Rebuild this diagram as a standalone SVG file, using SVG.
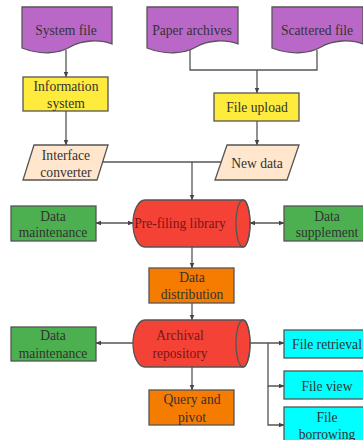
<svg xmlns="http://www.w3.org/2000/svg" width="363" height="440" viewBox="0 0 363 440">
<style>
.s{stroke:#555;stroke-width:1.3}
.doc{fill:#BA68C8}
.yel{fill:#FFEB3B}
.pea{fill:#FFE6CC}
.grn{fill:#4CAF50}
.red{fill:#F44336}
.org{fill:#F57C00}
.cyn{fill:#00FFFF}
text{font-family:"Liberation Serif","Times New Roman",serif;font-size:13.6px;fill:#333;text-anchor:middle}
.rt{fill:#7a1515}
.c{fill:none;stroke:#555;stroke-width:1.3}
</style>
<defs>
<marker id="a" viewBox="0 0 10 10" refX="9" refY="5" markerWidth="6" markerHeight="6" orient="auto-start-reverse" markerUnits="userSpaceOnUse">
<path d="M0,1 L10,5 L0,9 z" fill="#444"/>
</marker>
</defs>
<g id="connectors">
<path class="c" d="M66,50 V77" marker-end="url(#a)"/>
<path class="c" d="M66,111 V145" marker-end="url(#a)"/>
<path class="c" d="M190,50 V70 H317 V50"/>
<path class="c" d="M257,70 V93" marker-end="url(#a)"/>
<path class="c" d="M257,121 V145" marker-end="url(#a)"/>
<path class="c" d="M103,162 H221"/>
<path class="c" d="M192,162 V200" marker-end="url(#a)"/>
<path class="c" d="M96,223 H133" marker-start="url(#a)" marker-end="url(#a)"/>
<path class="c" d="M250,223 H284" marker-start="url(#a)" marker-end="url(#a)"/>
<path class="c" d="M192,247 V268" marker-end="url(#a)"/>
<path class="c" d="M192,303 V320" marker-end="url(#a)"/>
<path class="c" d="M133,343 H96" marker-end="url(#a)"/>
<path class="c" d="M250,343 H284" marker-end="url(#a)"/>
<path class="c" d="M268,343 V386 H284" marker-end="url(#a)"/>
<path class="c" d="M268,386 V425 H284" marker-end="url(#a)"/>
<path class="c" d="M192,367 V390" marker-end="url(#a)"/>
</g>
<g id="system-file">
<path class="doc s" d="M22,7 H112 V44 C100,39 82,40 70,47 C58,54 40,55 22,48 Z"/>
<text x="66" y="35">System file</text>
</g>
<g id="paper-archives">
<path class="doc s" d="M147,7 H238 V44 C226,39 208,40 196,47 C184,54 165,55 147,48 Z"/>
<text x="192" y="35">Paper archives</text>
</g>
<g id="scattered-file">
<path class="doc s" d="M272,7 H363 V44 C351,39 333,40 321,47 C309,54 290,55 272,48 Z"/>
<text x="317" y="35">Scattered file</text>
</g>
<g id="information-system">
<rect class="yel s" x="23" y="77" width="85" height="34"/>
<text x="66" y="91">Information</text>
<text x="66" y="108">system</text>
</g>
<g id="file-upload">
<rect class="yel s" x="214" y="93" width="85" height="28"/>
<text x="257" y="112">File upload</text>
</g>
<g id="interface-converter">
<path class="pea s" d="M34,145 H108 L97,180 H23 Z"/>
<text x="66" y="160">Interface</text>
<text x="66" y="177">converter</text>
</g>
<g id="new-data">
<path class="pea s" d="M227,145 H299 L287,180 H215 Z"/>
<text x="257" y="168">New data</text>
</g>
<g id="pre-filing-library">
<path class="red s" d="M145,200 H243 A7,23.5 0 0 1 243,247 H145 A12,23.5 0 0 1 145,200 Z"/>
<ellipse class="s" cx="243" cy="223.5" rx="7" ry="23.5" fill="none"/>
<text class="rt" x="180" y="228">Pre-filing library</text>
</g>
<g id="data-maintenance-1">
<rect class="grn s" x="11" y="206" width="85" height="35"/>
<text x="53" y="221">Data</text>
<text x="53" y="237">maintenance</text>
</g>
<g id="data-supplement">
<rect class="grn s" x="284" y="206" width="86" height="35"/>
<text x="327" y="221">Data</text>
<text x="327" y="237">supplement</text>
</g>
<g id="data-distribution">
<rect class="org s" x="149" y="268" width="85" height="35"/>
<text x="192" y="282">Data</text>
<text x="192" y="299">distribution</text>
</g>
<g id="archival-repository">
<path class="red s" d="M145,320 H243 A7,23.5 0 0 1 243,367 H145 A12,23.5 0 0 1 145,320 Z"/>
<ellipse class="s" cx="243" cy="343.5" rx="7" ry="23.5" fill="none"/>
<text class="rt" x="180" y="340">Archival</text>
<text class="rt" x="180" y="358">repository</text>
</g>
<g id="data-maintenance-2">
<rect class="grn s" x="11" y="327" width="85" height="34"/>
<text x="53" y="340">Data</text>
<text x="53" y="358">maintenance</text>
</g>
<g id="file-retrieval">
<rect class="cyn s" x="284" y="330" width="86" height="28"/>
<text x="327" y="349">File retrieval</text>
</g>
<g id="file-view">
<rect class="cyn s" x="284" y="371" width="86" height="28"/>
<text x="327" y="391">File view</text>
</g>
<g id="file-borrowing">
<rect class="cyn s" x="284" y="407" width="86" height="40"/>
<text x="327" y="422">File</text>
<text x="327" y="439">borrowing</text>
</g>
<g id="query-and-pivot">
<rect class="org s" x="149" y="390" width="85" height="35"/>
<text x="192" y="404">Query and</text>
<text x="192" y="422">pivot</text>
</g>
</svg>
